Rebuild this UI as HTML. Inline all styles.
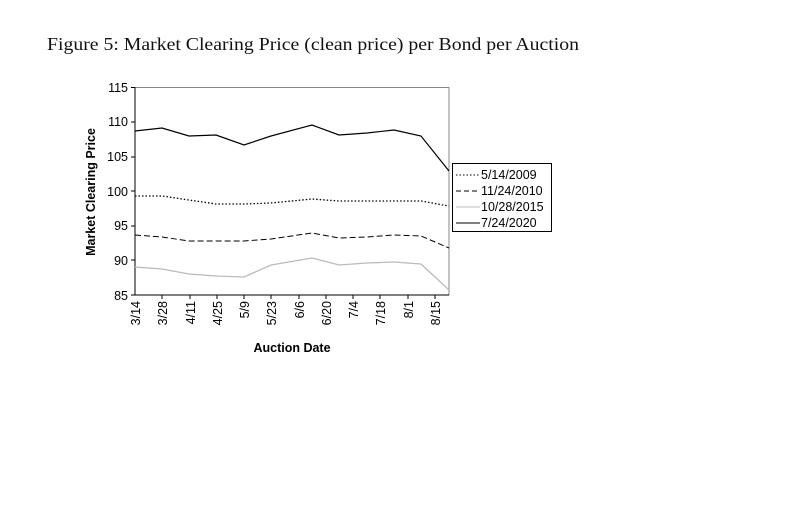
<!DOCTYPE html><html><head><style>body{margin:0;background:#fff;width:810px;height:506px;overflow:hidden}</style></head><body>
<svg width="810" height="506" xmlns="http://www.w3.org/2000/svg" font-family="Liberation Sans, sans-serif">
<text x="47" y="50" font-family="Liberation Serif, serif" font-size="18" fill="#111" textLength="532" lengthAdjust="spacingAndGlyphs">Figure 5: Market Clearing Price (clean price) per Bond per Auction</text>
<rect x="135" y="87.5" width="314" height="207.5" fill="none" stroke="#888" stroke-width="1"/>
<line x1="135" y1="87.5" x2="135" y2="295" stroke="#000"/>
<line x1="135" y1="295" x2="449" y2="295" stroke="#000"/>
<g font-size="12.5" text-anchor="end" fill="#000">
<text x="128" y="92">115</text><text x="128" y="126">110</text><text x="128" y="161">105</text><text x="128" y="196">100</text><text x="128" y="230">95</text><text x="128" y="265">90</text><text x="128" y="300">85</text>
</g>
<g stroke="#000"><line x1="131" y1="87.5" x2="135" y2="87.5"/><line x1="131" y1="122" x2="135" y2="122"/><line x1="131" y1="157" x2="135" y2="157"/><line x1="131" y1="191" x2="135" y2="191"/><line x1="131" y1="226" x2="135" y2="226"/><line x1="131" y1="260" x2="135" y2="260"/><line x1="131" y1="295" x2="135" y2="295"/>
<line x1="162" y1="295" x2="162" y2="299"/><line x1="190" y1="295" x2="190" y2="299"/><line x1="217" y1="295" x2="217" y2="299"/><line x1="244" y1="295" x2="244" y2="299"/><line x1="271" y1="295" x2="271" y2="299"/><line x1="299" y1="295" x2="299" y2="299"/><line x1="326" y1="295" x2="326" y2="299"/><line x1="353" y1="295" x2="353" y2="299"/><line x1="380" y1="295" x2="380" y2="299"/><line x1="408" y1="295" x2="408" y2="299"/><line x1="435" y1="295" x2="435" y2="299"/></g>
<g font-size="12.5" text-anchor="end" fill="#000">
<text transform="translate(140,301) rotate(-90)">3/14</text>
<text transform="translate(167,301) rotate(-90)">3/28</text>
<text transform="translate(195,301) rotate(-90)">4/11</text>
<text transform="translate(222,301) rotate(-90)">4/25</text>
<text transform="translate(249,301) rotate(-90)">5/9</text>
<text transform="translate(276,301) rotate(-90)">5/23</text>
<text transform="translate(304,301) rotate(-90)">6/6</text>
<text transform="translate(331,301) rotate(-90)">6/20</text>
<text transform="translate(358,301) rotate(-90)">7/4</text>
<text transform="translate(385,301) rotate(-90)">7/18</text>
<text transform="translate(413,301) rotate(-90)">8/1</text>
<text transform="translate(440,301) rotate(-90)">8/15</text>
</g>
<text x="292" y="352" font-size="12.5" font-weight="bold" text-anchor="middle">Auction Date</text>
<text transform="translate(95,192) rotate(-90)" font-size="12.5" font-weight="bold" text-anchor="middle">Market Clearing Price</text>
<g fill="none">
<polyline stroke="#000" stroke-width="1.2" points="135,131 162,128 189,136 216,135 244,145 271,136 312,125 339,135 367,133 394,130 421,136 449,171"/>
<polyline stroke="#000" stroke-width="1.3" stroke-dasharray="1.5,2" points="135,196 162,196 189,200 216,204 244,204 271,203 312,199 339,201 367,201 394,201 421,201 449,206"/>
<polyline stroke="#000" stroke-width="1" stroke-dasharray="6,3" points="135,235 162,237 189,241 216,241 244,241 271,239 312,233 339,238 367,237 394,235 421,236 449,248"/>
<polyline stroke="#bbb" stroke-width="1.3" points="135,267 162,269 189,274 216,276 244,277 271,265 312,258 339,265 367,263 394,262 421,264 449,290"/>
</g>
<rect x="452.5" y="163.5" width="99" height="68" fill="#fff" stroke="#000"/>
<g font-size="12.5">
<line x1="456" y1="175" x2="480" y2="175" stroke="#000" stroke-dasharray="1.5,2"/><text x="481" y="179">5/14/2009</text>
<line x1="456" y1="191" x2="480" y2="191" stroke="#000" stroke-dasharray="5,3"/><text x="481" y="195">11/24/2010</text>
<line x1="456" y1="207" x2="480" y2="207" stroke="#bbb"/><text x="481" y="211">10/28/2015</text>
<line x1="456" y1="223" x2="480" y2="223" stroke="#000"/><text x="481" y="227">7/24/2020</text>
</g>
</svg></body></html>
